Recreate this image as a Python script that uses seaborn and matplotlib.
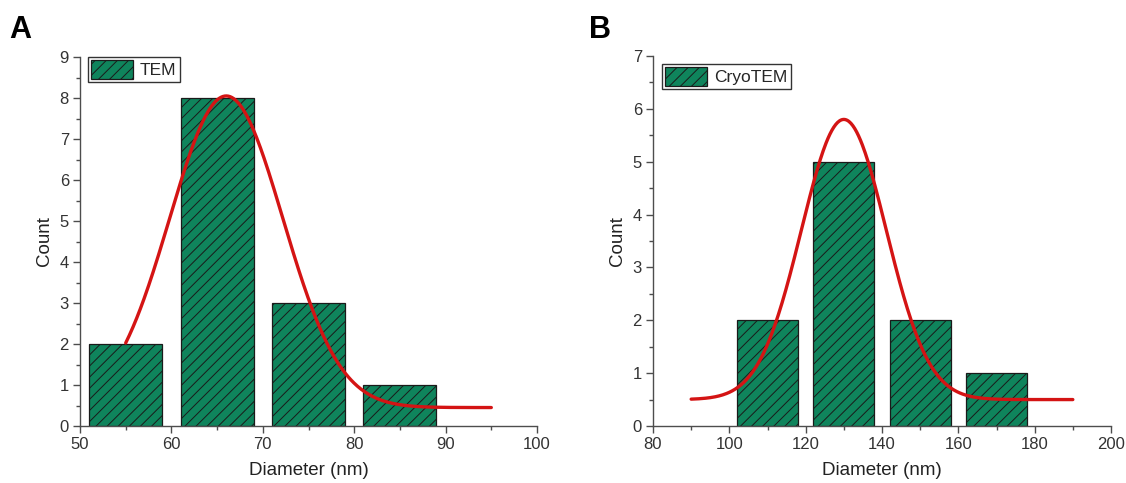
import numpy as np
import pandas as pd
import matplotlib
matplotlib.use("Agg")
import matplotlib.pyplot as plt
import seaborn as sns

# ---- data ----
tem_centers = [55, 65, 75, 85]
tem_counts = [2, 8, 3, 1]
tem_bin_edges = [50, 60, 70, 80, 90]
# Gaussian fit (y0, xc, sigma, amplitude) and fit range
tem_fit = dict(y0=0.45, xc=66.0, sigma=6.2, amp=7.6)
tem_fit_range = (55, 95)

cryo_centers = [110, 130, 150, 170]
cryo_counts = [2, 5, 2, 1]
cryo_bin_edges = [100, 120, 140, 160, 180]
cryo_fit = dict(y0=0.5, xc=130.0, sigma=11.1, amp=5.3)
cryo_fit_range = (90, 190)

sns.set_theme(style="ticks")
plt.rcParams['font.family'] = ['Liberation Sans', 'DejaVu Sans']
plt.rcParams['hatch.linewidth'] = 0.7
plt.rcParams['hatch.color'] = '#1a1a1a'

BAR = '#0f845c'
RED = '#d41414'
AX = '#4d4d4d'

fig = plt.figure(figsize=(11.26, 4.83), dpi=100)
axA = fig.add_axes([80/1126, 1-426/483, (537-80)/1126, (426-57)/483])
axB = fig.add_axes([653/1126, 1-426/483, (1111-653)/1126, (426-56)/483])


def gauss(x, p):
    return p['y0'] + p['amp'] * np.exp(-(x - p['xc'])**2 / (2 * p['sigma']**2))


def panel(ax, centers, counts, edges, fit, frange, label, xlim, ylim, xmaj, xmin_,
          letter, letter_x, leg_anchor):
    df = pd.DataFrame({'d': centers, 'n': counts})
    sns.histplot(data=df, x='d', weights='n', bins=edges, shrink=0.8, ax=ax,
                 color=BAR, alpha=1, edgecolor='#1a1a1a', linewidth=0.9,
                 hatch='///', label=label)
    xs = np.linspace(frange[0], frange[1], 400)
    fdf = pd.DataFrame({'x': xs, 'y': gauss(xs, fit)})
    sns.lineplot(data=fdf, x='x', y='y', ax=ax, color=RED, linewidth=2.4, legend=False)
    ax.set_xlim(*xlim)
    ax.set_ylim(*ylim)
    ax.set_xticks(np.arange(xlim[0], xlim[1] + 1, xmaj))
    ax.set_xticks(np.arange(xlim[0], xlim[1] + 1, xmin_), minor=True)
    ax.set_yticks(np.arange(0, ylim[1] + 1, 1))
    ax.set_yticks(np.arange(0, ylim[1] + 0.01, 0.5), minor=True)
    for s in ['top', 'right']:
        ax.spines[s].set_visible(False)
    for s in ['left', 'bottom']:
        ax.spines[s].set_color(AX)
        ax.spines[s].set_linewidth(1.0)
    ax.tick_params(which='major', direction='out', length=5, width=1, color=AX,
                   labelsize=12, labelcolor='#333333', pad=3)
    ax.tick_params(which='minor', direction='out', length=3, width=1, color=AX)
    ax.set_xlabel('Diameter (nm)', fontsize=13.5, color='#222222', labelpad=7)
    ax.set_ylabel('Count', fontsize=13.5, color='#222222', labelpad=5)
    leg = ax.legend(loc='upper left', fontsize=12.5, frameon=True, fancybox=False,
                    edgecolor='#333333', framealpha=1, borderpad=0.2,
                    borderaxespad=0, handlelength=2.4, handleheight=1.25,
                    handletextpad=0.4, bbox_to_anchor=leg_anchor)
    leg.get_frame().set_linewidth(1.0)
    fig.text(letter_x / 1126, 1 - 15 / 483, letter, fontsize=22,
             fontweight='bold', ha='left', va='top', color='black')


panel(axA, tem_centers, tem_counts, tem_bin_edges, tem_fit, tem_fit_range, 'TEM',
      (50, 100), (0, 9), 10, 5, 'A', 9, (8 / 457, 1.0))
panel(axB, cryo_centers, cryo_counts, cryo_bin_edges, cryo_fit, cryo_fit_range, 'CryoTEM',
      (80, 200), (0, 7), 20, 10, 'B', 589, (9 / 458, (426 - 64) / 370))

fig.savefig('out.png', dpi=100)
